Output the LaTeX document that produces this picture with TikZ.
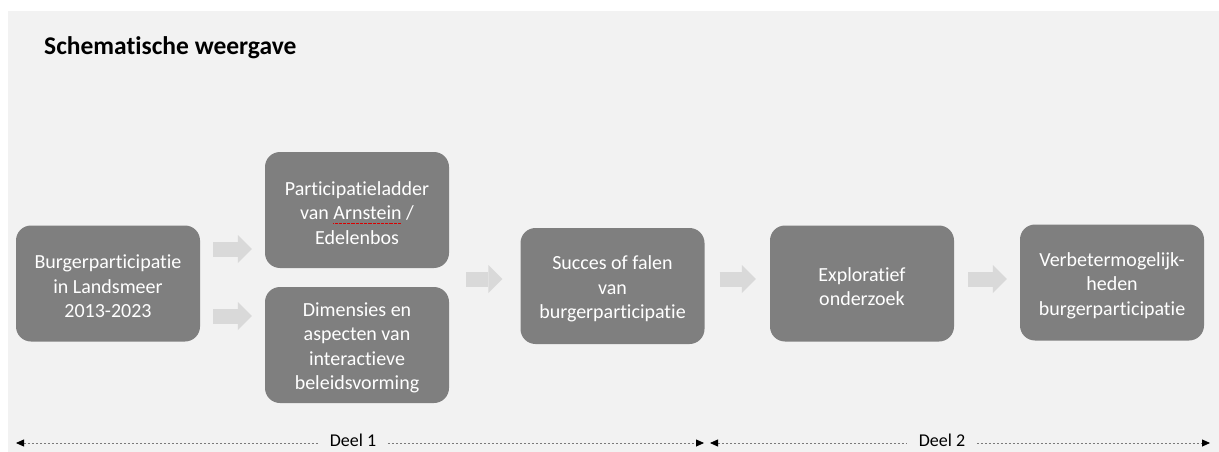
\documentclass[tikz,border=0pt]{standalone}
\usepackage{fontspec}
\setmainfont{Carlito}[Ligatures={NoCommon}]
\usetikzlibrary{arrows.meta,calc}
\definecolor{bg}{HTML}{F2F2F2}
\definecolor{boxgray}{HTML}{7F7F7F}
\definecolor{arrgray}{HTML}{D9D9D9}
\definecolor{dashgray}{HTML}{7A7A7A}
\newcommand\spellwave[1]{\setbox0\hbox{#1}\rlap{\textcolor{red!85!black}{\lower3.5pt\hbox to \wd0{\xleaders\hbox{\rule{0.8pt}{0.8pt}\hskip0.5pt}\hfil}}}\box0\relax}
\begin{document}
\begin{tikzpicture}[x=1pt,y=-1pt,
 procbox/.style={fill=boxgray, rounded corners=15pt, minimum width=184pt, minimum height=116pt, inner sep=0pt},
 boxtext/.style={align=center, text=white, font=\fontsize{20}{24.5}\selectfont, inner sep=0pt},
 blockarrow/.style={draw=arrgray, line width=15pt, -{Triangle[length=14pt,width=28pt,line width=0pt,color=arrgray]}},
 partline/.style={draw=dashgray, line width=0.8pt, dash pattern=on 2.5pt off 1.5pt},
 partlabel/.style={font=\fontsize{18}{20}\selectfont, inner xsep=11.5pt, inner ysep=2pt},
]
\useasboundingbox (0,0) rectangle (1219,452);
\fill[white] (0,0) rectangle (1219,452);
\fill[bg] (8,11) rectangle (1219,452);

\node[anchor=base west, font=\bfseries\fontsize{25.5}{30}\selectfont, inner sep=0pt] (title) at (44,55) {Schematische weergave};

\node[procbox] (b1) at (108,283.5) {};
\node[procbox] (b2) at (357,210) {};
\node[procbox] (b3) at (357,345) {};
\node[procbox] (b4) at (612.5,286) {};
\node[procbox] (b5) at (862,283.5) {};
\node[procbox] (b6) at (1112,282.5) {};

\node[boxtext] (t1) at ([yshift=-3pt]b1.center) {Burgerparticipatie\\in Landsmeer\\2013-2023};
\node[boxtext] (t2) at ([yshift=-3pt]b2.center) {Participatieladder\\van \spellwave{Arnstein} /\\Edelenbos};
\node[boxtext] (t3) at ([yshift=-3pt]b3.center) {Dimensies en\\aspecten van\\interactieve\\beleidsvorming};
\node[boxtext] (t4) at ([yshift=-3pt]b4.center) {Succes of falen\\van\\burgerparticipatie};
\node[boxtext] (t5) at ([yshift=-3pt]b5.center) {Exploratief\\onderzoek};
\node[boxtext] (t6) at ([yshift=-3pt]b6.center) {Verbetermogelijk-\\heden\\burgerparticipatie};

\coordinate (r1) at (0,249);
\coordinate (r2) at (0,316);
\coordinate (r3) at (0,279);

\draw[blockarrow, shorten <=13pt, shorten >=13pt] (b1.east |- r1) -- (b2.west |- r1);
\draw[blockarrow, shorten <=13pt, shorten >=13pt] (b1.east |- r2) -- (b3.west |- r2);
\draw[blockarrow, shorten <=17pt, shorten >=18pt] (b2.east |- r3) -- (b4.west |- r3);
\draw[blockarrow, shorten <=15pt, shorten >=14pt] (b4.east |- r3) -- (b5.west |- r3);
\draw[blockarrow, shorten <=14pt, shorten >=13pt] (b5.east |- r3) -- (b6.west |- r3);

\coordinate (p1s) at (16,443);
\coordinate (p1e) at (704,443);
\coordinate (p2s) at (710,443);
\coordinate (p2e) at (1210,443);
\node[partlabel] (deel1) at (353,440) {Deel 1};
\node[partlabel] (deel2) at (942,440) {Deel 2};

\draw[partline, {Triangle[length=8pt,width=7pt,color=black]}-] (p1s) -- (p1s -| deel1.west);
\draw[partline, -{Triangle[length=8pt,width=7pt,color=black]}] (p1s -| deel1.east) -- (p1e);
\draw[partline, {Triangle[length=8pt,width=7pt,color=black]}-] (p2s) -- (p2s -| deel2.west);
\draw[partline, -{Triangle[length=8pt,width=7pt,color=black]}] (p2s -| deel2.east) -- (p2e);
\end{tikzpicture}
\end{document}
